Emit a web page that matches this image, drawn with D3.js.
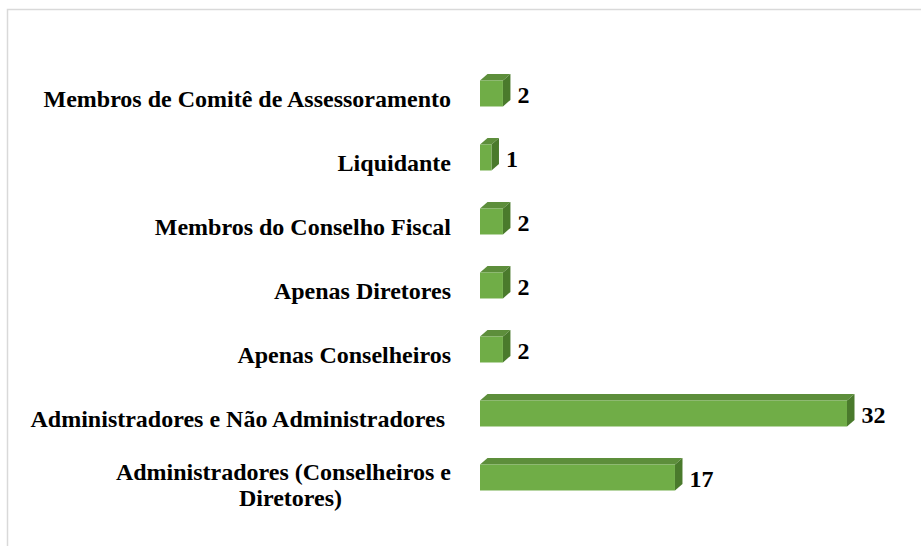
<!DOCTYPE html>
<html>
<head>
<meta charset="utf-8">
<script src="https://cdn.jsdelivr.net/npm/d3@7"></script>
<style>
  body { margin: 0; background: #fff; }
  text { font-family: "Times New Roman", "Liberation Serif", Times, serif; font-weight: bold; fill: #000; }
</style>
</head>
<body>
<svg width="921" height="546"></svg>
<script>
// data, top to bottom
const categories = [
    'Membros de Comitê de Assessoramento',
    'Liquidante',
    'Membros do Conselho Fiscal',
    'Apenas Diretores',
    'Apenas Conselheiros',
    'Administradores e Não Administradores',
    'Administradores (Conselheiros e Diretores)'
];
const values = [2, 1, 2, 2, 2, 32, 17];
// how the long label wraps in the source
const labelLines = [
    ['Membros de Comitê de Assessoramento'],
    ['Liquidante'],
    ['Membros do Conselho Fiscal'],
    ['Apenas Diretores'],
    ['Apenas Conselheiros'],
    ['Administradores e Não Administradores\u00a0'],
    ['Administradores (Conselheiros e', 'Diretores)']
];

const rows = categories.map((c, i) => ({ name: c, value: values[i], lines: labelLines[i] }));

const svg = d3.select('svg');

// outer frame
svg.append('rect')
    .attr('x', 7.5).attr('y', 9.5)
    .attr('width', 930).attr('height', 560)
    .attr('fill', 'none')
    .attr('stroke', '#d9d9d9')
    .attr('stroke-width', 1.5);

const x = d3.scaleLinear().domain([0, 32]).range([480, 847]);
const y = d3.scaleBand().domain(categories)
    .range([61.5, 509.5])
    .paddingInner(0.594)
    .paddingOuter(0.297);

const dx = 7.5, dy = -6.5; // 3D depth
const fontSize = '24px';

const bars = svg.append('g').selectAll('g')
    .data(rows)
    .enter().append('g');

// top face
bars.append('path')
    .attr('fill', '#5d8e3b')
    .attr('d', d => {
        const x0 = x(0), x1 = x(d.value), y0 = y(d.name);
        return `M${x0},${y0}L${x0 + dx},${y0 + dy}L${x1 + dx},${y0 + dy}L${x1},${y0}Z`;
    });

// side face
bars.append('path')
    .attr('fill', '#4a7a2c')
    .attr('d', d => {
        const x1 = x(d.value), y0 = y(d.name), y1 = y0 + y.bandwidth();
        return `M${x1},${y0}L${x1 + dx},${y0 + dy}L${x1 + dx},${y1 + dy}L${x1},${y1}Z`;
    });

// front face
bars.append('rect')
    .attr('fill', '#70ad47')
    .attr('x', x(0))
    .attr('y', d => y(d.name))
    .attr('width', d => x(d.value) - x(0))
    .attr('height', y.bandwidth());

// value labels
bars.append('text')
    .attr('x', d => x(d.value) + dx + 7)
    .attr('y', d => y(d.name) + y.bandwidth() / 2 + 9)
    .style('font-size', fontSize)
    .text(d => d.value);

// category labels
const labelRight = 451;
const labels = svg.append('g').selectAll('text')
    .data(rows)
    .enter().append('text')
    .style('font-size', fontSize)
    .style('white-space', 'pre');

labels.each(function (d) {
    const t = d3.select(this);
    const c = y(d.name) + y.bandwidth() / 2;
    if (d.lines.length === 1) {
        t.attr('text-anchor', 'end')
            .attr('x', labelRight)
            .attr('y', c + 13.5)
            .text(d.lines[0]);
    } else {
        // first line right aligned, following lines centred under it
        const first = t.append('tspan').text(d.lines[0]);
        const w = first.node().getComputedTextLength();
        const mid = labelRight - w / 2;
        t.attr('text-anchor', 'middle');
        first.attr('x', mid).attr('y', c + 2);
        d.lines.slice(1).forEach((l, k) => {
            t.append('tspan').attr('x', mid + 7).attr('y', c + 2 + 26 * (k + 1)).text(l);
        });
    }
});
</script>
</body>
</html>
